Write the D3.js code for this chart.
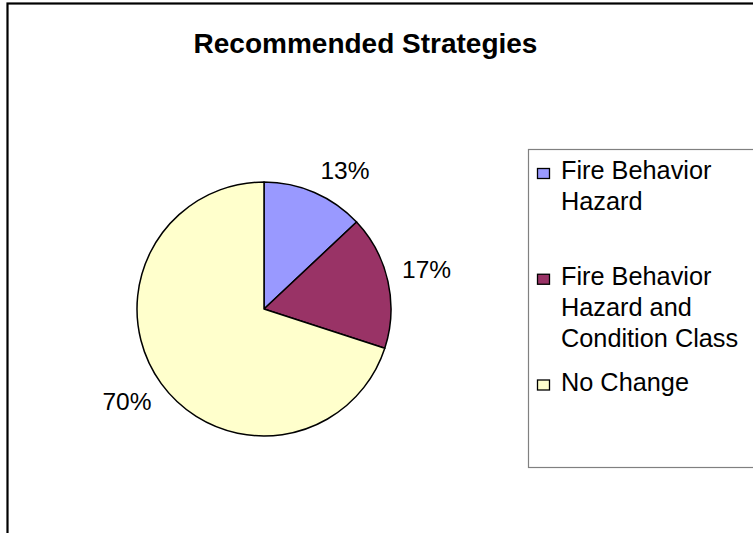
<!DOCTYPE html>
<html>
<head>
<meta charset="utf-8">
<script src="https://cdn.jsdelivr.net/npm/d3@7"></script>
<style>
  html, body { margin: 0; padding: 0; background: #fff; }
  svg { display: block; font-family: "Liberation Sans", Arial, sans-serif; }
</style>
</head>
<body>
<svg id="chart" width="753" height="533"></svg>
<script>
const title = "Recommended Strategies";
const categories = ["Fire Behavior Hazard", "Fire Behavior Hazard and Condition Class", "No Change"];
const legendLines = [["Fire Behavior", "Hazard"], ["Fire Behavior", "Hazard and", "Condition Class"], ["No Change"]];
const values = [13, 17, 70];
const colors = ["#9999FF", "#993366", "#FFFFCC"];

const svg = d3.select("#chart");

// outer chart frame (extends past the window on right and bottom)
svg.append("rect")
  .attr("x", 7.5).attr("y", 3.5)
  .attr("width", 900).attr("height", 700)
  .attr("fill", "#fff").attr("stroke", "#000").attr("stroke-width", 2.2);

svg.append("text")
  .attr("x", 365.5).attr("y", 52.5)
  .attr("text-anchor", "middle")
  .attr("font-size", 28).attr("font-weight", "bold")
  .text(title);

const cx = 264, cy = 309, r = 127;
const total = d3.sum(values);
const pie = d3.pie().sort(null).value(d => d);
const arcs = pie(values);
const arc = d3.arc().innerRadius(0).outerRadius(r);
const color = d3.scaleOrdinal().domain(categories).range(colors);

const g = svg.append("g").attr("transform", `translate(${cx},${cy})`);
g.selectAll("path.slice").data(arcs).enter().append("path")
  .attr("class", "slice")
  .attr("d", arc)
  .attr("fill", (d, i) => color(categories[i]))
  .attr("stroke", "#000").attr("stroke-width", 1.5)
  .attr("stroke-linejoin", "round");

// percentage labels: box corner placed at radius r0 on the mid angle
const r0 = 141, lw = 48, lh = 19;
g.selectAll("text.lbl").data(arcs).enter().append("text")
  .attr("class", "lbl")
  .attr("font-size", 24.5)
  .attr("text-anchor", "middle")
  .attr("x", d => {
    const a = (d.startAngle + d.endAngle) / 2;
    return r0 * Math.sin(a) + Math.sign(Math.sin(a)) * lw / 2 + 1;
  })
  .attr("y", d => {
    const a = (d.startAngle + d.endAngle) / 2;
    const c = -r0 * Math.cos(a) + Math.sign(-Math.cos(a)) * lh / 2;
    return c + 9;
  })
  .text(d => Math.round(d.data / total * 100) + "%");

// legend
svg.append("rect")
  .attr("x", 528.5).attr("y", 149.5)
  .attr("width", 400).attr("height", 318)
  .attr("fill", "#fff").attr("stroke", "#808080").attr("stroke-width", 1.2);

const legendY = d3.scaleLinear().domain([0, 1]).range([179, 284.75]);
const lg = svg.append("g");
categories.forEach((c, i) => {
  const y = legendY(i);
  lg.append("rect")
    .attr("x", 537.5).attr("y", y - 10.5)
    .attr("width", 12).attr("height", 10)
    .attr("fill", color(c)).attr("stroke", "#000").attr("stroke-width", 1.3);
  const t = lg.append("text").attr("x", 561).attr("y", y).attr("font-size", 25.3);
  legendLines[i].forEach((line, j) => {
    t.append("tspan").attr("x", 561).attr("y", y + j * 31.3).text(line);
  });
});
</script>
</body>
</html>
